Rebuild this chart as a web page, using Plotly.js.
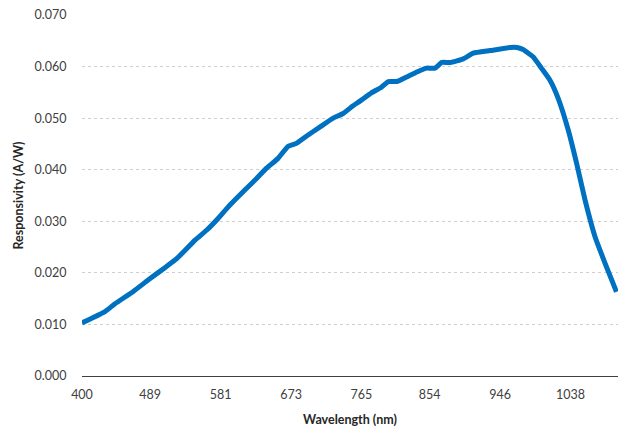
<!DOCTYPE html>
<html>
<head>
<meta charset="utf-8">
<script src="https://cdn.plot.ly/plotly-3.0.1.min.js"></script>
<style>html,body{margin:0;padding:0;background:#fff;}#chart{width:627px;height:433px;}</style>
</head>
<body>
<div id="chart"></div>
<script>
const wavelength = [400, 430, 443, 467, 489, 510, 524, 548, 563, 578, 591, 613, 628, 641, 656, 669, 680, 693, 711, 728, 741, 754, 763, 778, 791, 800, 811, 824, 841, 850, 861, 870, 881, 898, 911, 933, 959, 968, 976, 989, 1000, 1011, 1022, 1035, 1046, 1057, 1070, 1083, 1098];
const responsivity = [0.0103, 0.0125, 0.0140, 0.0164, 0.0189, 0.0212, 0.0228, 0.0264, 0.0283, 0.0306, 0.0328, 0.0361, 0.0383, 0.0403, 0.0422, 0.0445, 0.0451, 0.0465, 0.0483, 0.0500, 0.0509, 0.0524, 0.0533, 0.0549, 0.0560, 0.0571, 0.0571, 0.0580, 0.0592, 0.0597, 0.0597, 0.0608, 0.0608, 0.0615, 0.0626, 0.0631, 0.0637, 0.0637, 0.0633, 0.0619, 0.0597, 0.0574, 0.0538, 0.0477, 0.0412, 0.0341, 0.0270, 0.0219, 0.0163];
const xTicks = [400, 489, 581, 673, 765, 854, 946, 1038];
const yTicks = [0, 0.01, 0.02, 0.03, 0.04, 0.05, 0.06, 0.07];

const font = "Lato, 'Open Sans', sans-serif";
Plotly.newPlot('chart', [{
  x: wavelength, y: responsivity, type: 'scatter', mode: 'lines',
  line: {color: '#0070C0', width: 5, shape: 'spline', smoothing: 0.4},
  hoverinfo: 'skip'
}], {
  width: 627, height: 433,
  margin: {l: 82, r: 9, t: 15, b: 57},
  paper_bgcolor: '#fff', plot_bgcolor: '#fff',
  showlegend: false,
  font: {family: font, size: 12, color: '#404040'},
  xaxis: {
    range: [400, 1100], tickvals: xTicks, ticktext: xTicks.map(String),
    showgrid: false, zeroline: false, showline: true, linecolor: '#404040', linewidth: 1,
    ticks: 'outside', ticklen: 7, tickcolor: 'rgba(0,0,0,0)',
    tickfont: {family: font, size: 12.5, color: '#404040'},
    title: {text: '<b>Wavelength (nm)</b>', font: {family: font, size: 12.5, color: '#262626'}, standoff: 14}
  },
  yaxis: {
    range: [0, 0.07], tickvals: yTicks, tickformat: '.3f',
    showgrid: true, gridcolor: '#cfcfcf', griddash: 'dot', gridwidth: 1,
    zeroline: false, showline: false,
    ticks: 'outside', ticklen: 12, tickcolor: 'rgba(0,0,0,0)',
    tickfont: {family: font, size: 12.5, color: '#404040'},
    title: {text: '<b>Responsivity (A/W)</b>', font: {family: font, size: 12.5, color: '#262626'}, standoff: 8}
  }
}, {displayModeBar: false, staticPlot: true});
</script>
</body>
</html>
